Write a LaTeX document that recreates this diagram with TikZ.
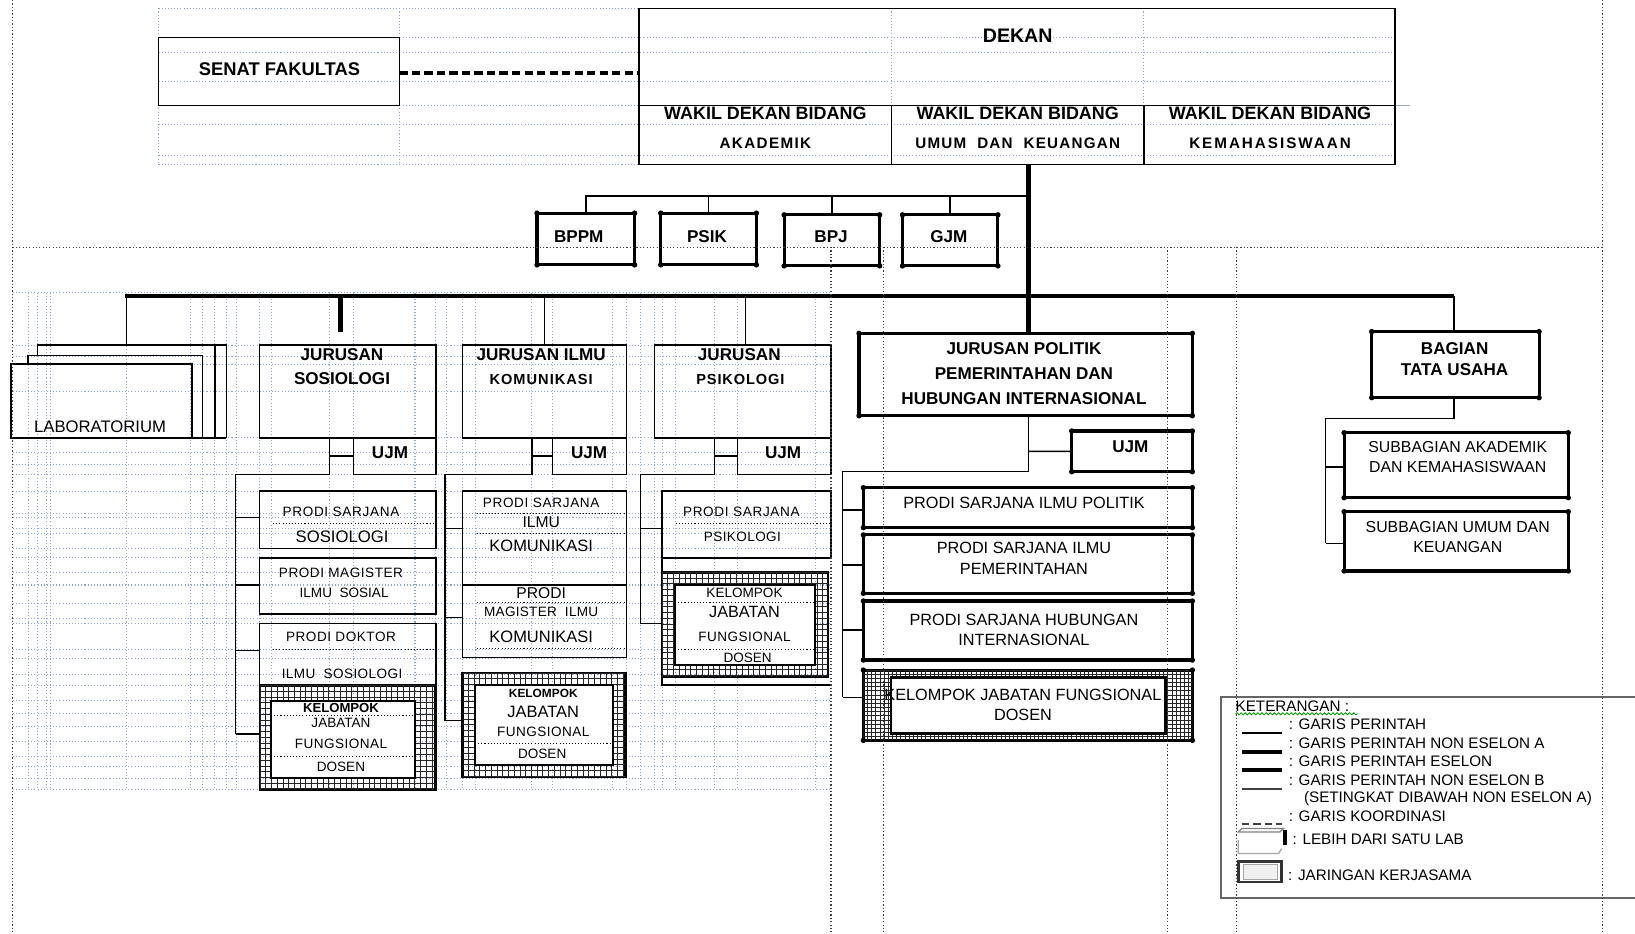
\documentclass[tikz,border=0pt]{standalone}
\usepackage{fontspec}
\setmainfont{Liberation Sans}
\usetikzlibrary{decorations.pathmorphing}
\definecolor{gridblue}{HTML}{8FA7CC}
\newcommand\fsz[1]{\fontsize{#1}{#1}\selectfont}
\newcommand\trk[2]{{\addfontfeature{LetterSpace=#1}#2}}
\newcommand\mkbox[6][box]{\node[#1, minimum width={(#5-#3)*0.5pt}, minimum height={(#6-#4)*0.5pt}] (#2) at ({(#3+#5)/2},{(#4+#6)/2}) {};}
\newcommand\cornerdots[1]{\foreach \c in {north west,north east,south west,south east}{\fill (#1.\c) circle (1.3pt);}}
\newcommand\hatchbox[5]{\begin{scope}\clip (#1,#2) rectangle (#3,#4);
 \foreach \k in {0,...,85}{\draw[hatch] ({#1+\k*#5},#2) -- ({#1+\k*#5},#4); \draw[hatch] (#1,{#2+\k*#5}) -- (#3,{#2+\k*#5});}\end{scope}}
\begin{document}
\begin{tikzpicture}[x=0.5pt,y=-0.5pt,
 box/.style={draw, line width=0.7pt, inner sep=0pt, outer sep=0pt},
 fbox/.style={draw, line width=1pt, inner sep=0pt, outer sep=0pt, fill=white},
 heavy/.style={draw, line width=1.5pt, inner sep=0pt, outer sep=0pt},
 ln/.style={line width=0.7pt},
 lnm/.style={line width=1pt},
 bus/.style={line width=2pt},
 trunk/.style={line width=2.6pt},
 coord/.style={line width=1.8pt, dash pattern=on 4pt off 2pt},
 hatch/.style={line width=0.45pt, black!85},
 gridl/.style={gridblue, line width=0.5pt, dash pattern=on 0.5pt off 1pt},
 pagel/.style={black!75, line width=0.6pt, densely dotted},
 sep/.style={line width=0.5pt, densely dotted},
 txt/.style={inner sep=0pt, outer sep=0pt},
 hb/.style={txt, font=\fsz{8.2}\bfseries},
 rt/.style={txt, font=\fsz{7.8}},
 st/.style={txt, font=\fsz{6.5}},
 lg/.style={txt, anchor=west, font=\fsz{7.3}}]
\useasboundingbox (0,0) rectangle (1568,895);
\fill[white] (0,0) rectangle (1568,895);

% ---------- table grid lines (word gridlines), drawn first ----------
\foreach \yy in {8,36,50,78,101,119,149,158}{\draw[gridl] (152,\yy) -- (1338,\yy);}
\foreach \xx in {152,383,613,855,1097,1338}{\draw[gridl] (\xx,8) -- (\xx,158);}
\draw[gridblue, line width=0.6pt] (1338,101) -- (1352,101);
\foreach \yy in {280.7,331,341.5,349.4,375.6,420,434,445,455,471,492,496.5,506.7,511.5,525.9,535,549,561,578.6,593,597.7,622.5,631.4,646.7,657.6,672,684,697,711.3,725.7,735.3,747,757}{\draw[gridl] (12,\yy) -- (797,\yy);}
\foreach \xx in {27,36,44.8,48,121.5,183,194,206,217,227,249,260.6,316,339,398,418,428,443.7,455.6,510,530,587.6,601,613.8,627.5,635,647.4,684.8,707.5,782}{\draw[gridl] (\xx,281) -- (\xx,757);}

% ---------- top: senat and dekan ----------
\mkbox{senat}{152}{35.8}{383}{101}
\mkbox{dekan}{613}{8}{1338}{101}
\mkbox{wk1}{613}{101}{855}{158}
\mkbox{wk2}{855}{101}{1097}{158}
\mkbox{wk3}{1097}{101}{1338}{158}
\coordinate (dsh) at (383,70);
\draw[coord] (dsh) -- (dsh -| dekan.west);

% ---------- staff units ----------
\mkbox[heavy]{bppm}{515}{204.4}{608.6}{254}
\mkbox[heavy]{psik}{633.7}{204.4}{725.4}{254}
\mkbox[heavy]{bpj}{752}{206}{843.6}{255}
\mkbox[heavy]{gjm}{865.5}{206}{957}{255}
\foreach \n in {bppm,psik,bpj,gjm}{\cornerdots{\n}}
\coordinate (stj) at (986.5,187.6);
\draw[lnm] (stj) -- (stj -| bppm.north) -- (bppm.north);
\foreach \n in {psik,bpj,gjm}{\draw[ln] (\n.north) -- (\n.north |- stj);}

% ---------- laboratorium (stacked) ----------
\mkbox{lab3}{10.5}{349}{184}{420}
\draw[ln] (10.5,420) -- (217,420);
\draw[ln] (27,349) -- (27,341) -- (194,341) -- (194,420);
\draw[ln] (36,341) -- (36,331) -- (217,331) -- (217,420);
\draw[ln] (206,331) -- (206,420);

% ---------- jurusan sosiologi ----------
\mkbox{jsos}{249}{331}{418}{420}
\mkbox{ujms}{339}{420}{418}{455}
\mkbox{ss1}{249}{471}{418}{526}
\mkbox{ss2}{249}{535}{418}{589}
\mkbox{ss3}{249}{597.7}{418}{657.6}
\draw[sep] (262,502) -- (417,502);
\draw[sep] (262,622.5) -- (417,622.5);
\mkbox[draw,line width=1.2pt,inner sep=0pt,outer sep=0pt]{sk}{249.4}{657.6}{417.8}{757.6}
\hatchbox{249.4}{657.6}{417.8}{757.6}{5.5}
\mkbox[fbox]{ski}{260}{672.3}{398}{745.8}
\draw[sep] (260,686) -- (398,686);
\draw[sep] (260,725.4) -- (398,725.4);

% ---------- jurusan ilmu komunikasi ----------
\mkbox{jkom}{443.7}{331}{601}{420}
\mkbox{ujmk}{530}{420}{601}{455}
\mkbox{ks1}{443.7}{471}{601}{561}
\mkbox{ks2}{443.7}{561}{601}{630.7}
\draw[sep] (457,492) -- (599.5,492);
\draw[sep] (457,512) -- (599.5,512);
\draw[sep] (457,578) -- (599.5,578);
\draw[sep] (457,621.6) -- (599.5,621.6);
\mkbox[draw,line width=1.2pt,inner sep=0pt,outer sep=0pt]{kk}{443.7}{645.5}{600}{745}
\hatchbox{443.7}{645.5}{600}{745}{5.5}
\mkbox[fbox]{kki}{455.6}{657}{587.6}{733.7}
\draw[sep] (455.6,712.6) -- (587.6,712.6);

% ---------- jurusan psikologi ----------
\mkbox{jpsi}{627.5}{331}{797}{420}
\mkbox{ujmp}{707.5}{420}{797}{455}
\mkbox{ps1}{635}{471}{797}{535}
\draw[sep] (648,502) -- (797,502);
\draw[ln] (635,535) -- (635,657) -- (797,657);
\mkbox[draw,line width=1.2pt,inner sep=0pt,outer sep=0pt]{pk}{635}{549}{794}{649}
\hatchbox{635}{549}{794}{649}{5.5}
\mkbox[fbox]{pki}{647.4}{561}{782}{637.8}
\draw[sep] (647.4,578) -- (782,578);
\draw[sep] (647.4,622.5) -- (782,622.5);

% ---------- jurusan politik ----------
\mkbox[heavy]{jpol}{823.8}{319.7}{1143.5}{398.7}
\mkbox[heavy]{ujmpol}{1027.8}{413.3}{1143.5}{452.4}
\mkbox[heavy]{po1}{828}{467.7}{1143.5}{506}
\mkbox[heavy]{po2}{828}{513}{1143.5}{569}
\mkbox[heavy]{po3}{828}{576.4}{1143.5}{633}
\mkbox[heavy]{pok}{828}{642.6}{1143.5}{710}
\hatchbox{828}{642.6}{1143.5}{710}{4}
\mkbox[fbox,line width=1.4pt]{poki}{854.5}{649.6}{1117.3}{703.3}
\foreach \n in {jpol,ujmpol,po1,po2,po3,pok}{\cornerdots{\n}}

% ---------- bagian tata usaha ----------
\mkbox[heavy]{tu}{1315.5}{318}{1476}{381.4}
\mkbox[heavy]{tu1}{1289}{415}{1504}{477.3}
\mkbox[heavy]{tu2}{1289}{490.7}{1504}{547.6}
\foreach \n in {tu,tu1,tu2}{\cornerdots{\n}}

% ---------- main lines ----------
\coordinate (tk) at (986.5,158);
\draw[trunk] (tk) -- (tk |- jpol.north);
\coordinate (busL) at (120,284);
\coordinate (busR) at (1394.5,284);
\draw[bus] (busL) -- (busR);
\coordinate (labdrop) at (121.5,284);
\draw[ln] (labdrop) -- (121.5,331);
\coordinate (stub) at (326.7,284);
\draw[trunk] (stub) -- ++(0,34);
\draw[ln] (jkom.north) -- (jkom.north |- busL);
\coordinate (psidrop) at (715,284);
\draw[ln] (psidrop) -- (psidrop |- jpsi.north);
\draw[lnm] (busR) -- (busR |- tu.north);

% sosiologi connectors
\coordinate (sJ) at (316,455);
\coordinate (sV) at (226,455);
\draw[ln] (jsos.south -| sJ) -- (sJ) -- (sV) -- (226,704);
\draw[ln] (sJ |- ujms.west) -- (ujms.west);
\foreach \yy/\n in {496.5/ss1,561/ss2,624/ss3,704/sk}{\draw[ln] (226,\yy) -- (226,\yy -| \n.west);}

% komunikasi connectors
\coordinate (kJ) at (510,455);
\draw[ln] (jkom.south -| kJ) -- (kJ) -- (426.8,455) -- (426.8,691);
\draw[ln] (kJ |- ujmk.west) -- (ujmk.west);
\foreach \yy/\n in {506.7/ks1,592.4/ks2,691/kk}{\draw[ln] (426.8,\yy) -- (426.8,\yy -| \n.west);}

% psikologi connectors
\coordinate (pJ) at (685,455);
\draw[ln] (jpsi.south -| pJ) -- (pJ) -- (614,455) -- (614,598);
\draw[lnm] (pJ |- ujmp.west) -- (ujmp.west);
\foreach \yy/\n in {506.7/ps1,598/pk}{\draw[ln] (614,\yy) -- (614,\yy -| \n.west);}

% politik connectors
\coordinate (poJ) at (986.5,452.4);
\draw[ln] (tk |- jpol.south) -- (poJ) -- (808,452.4) -- (808,668.8);
\draw[ln] (986.5,432.8) -- (ujmpol.west);
\foreach \yy/\n in {489/po1,541.9/po2,604/po3,668.8/pok}{\draw[ln] (808,\yy) -- (808,\yy -| \n.west);}

% tata usaha connectors
\coordinate (tJ) at (1394.5,401.2);
\draw[ln] (tu.south -| tJ) -- (tJ) -- (1271.4,401.2) -- (1271.4,521);
\foreach \yy/\n in {448/tu1,521/tu2}{\draw[ln] (1271.4,\yy) -- (1271.4,\yy -| \n.west);}

% ---------- legend frame ----------
\coordinate (lgA) at (1170.7,668.8);
\draw[black!60, line width=0.9pt] (1568,668.8) -- (lgA) -- (1170.7,861.5) -- (1568,861.5);

% ---------- page dotted lines ----------
\draw[pagel] (12,0) -- (12,895);
\draw[pagel] (1537,0) -- (1537,895);
\draw[pagel] (12,237) -- (1537,237);
\foreach \xx in {797,847,1120,1186}{\draw[pagel] (\xx,237) -- (\xx,895);}

% ---------- texts ----------
\node[txt, font=\fsz{8.8}\bfseries] (tsenat) at (268,66.5) {SENAT FAKULTAS};
\node[txt, font=\fsz{9.4}\bfseries] (tdekan) at (976,34) {DEKAN};
\node[txt, font=\fsz{8.6}\bfseries] (twk1) at (734,108.6) {WAKIL DEKAN BIDANG};
\node[txt, font=\fsz{8.6}\bfseries] (twk2) at (976,108.6) {WAKIL DEKAN BIDANG};
\node[txt, font=\fsz{8.6}\bfseries] (twk3) at (1218,108.6) {WAKIL DEKAN BIDANG};
\node[txt, font=\fsz{7.3}\bfseries] (twk1b) at (734,137.5) {\trk{9}{AKADEMIK}};
\node[txt, font=\fsz{7.3}\bfseries] (twk2b) at (976,137.5) {\trk{8}{UMUM~ DAN~ KEUANGAN}};
\node[txt, font=\fsz{7.3}\bfseries] (twk3b) at (1218,137.5) {\trk{13}{KEMAHASISWAAN}};

\node[hb] (tbppm) at (555,227) {BPPM};
\node[hb] (tpsik) at (678,227) {PSIK};
\node[hb] (tbpj) at (797,227) {BPJ};
\node[hb] (tgjm) at (910,227) {GJM};

\node[txt, font=\fsz{8}] (tlab) at (96,409) {LABORATORIUM};

\node[hb] (tjs1) at (328,340) {JURUSAN};
\node[hb] (tjs2) at (328,363.5) {SOSIOLOGI};
\node[hb] (tujs) at (374,434) {UJM};
\node[st] (tss1a) at (327,490.7) {\trk{5}{PRODI SARJANA}};
\node[txt, font=\fsz{8}] (tss1b) at (328,514.7) {SOSIOLOGI};
\node[st] (tss2a) at (327,549.7) {\trk{4}{PRODI MAGISTER}};
\node[st] (tss2b) at (330,569) {ILMU~ SOSIAL};
\node[st] (tss3a) at (327,611) {\trk{4}{PRODI DOKTOR}};
\node[st] (tss3b) at (328,646.5) {\trk{3}{ILMU~ SOSIOLOGI}};
\node[txt, font=\fsz{6.3}\bfseries] (tsk1) at (327,678.7) {KELOMPOK};
\node[st] (tsk2) at (327,693.7) {JABATAN};
\node[st] (tsk3) at (327,713.5) {\trk{3.5}{FUNGSIONAL}};
\node[st] (tsk4) at (327,735.3) {DOSEN};

\node[hb] (tjk1) at (519,340) {JURUSAN ILMU};
\node[txt, font=\fsz{7}\bfseries] (tjk2) at (519,363.5) {\trk{7}{KOMUNIKASI}};
\node[hb] (tujk) at (565,434) {UJM};
\node[st] (tks1a) at (519,482) {\trk{5}{PRODI SARJANA}};
\node[txt, font=\fsz{7.5}] (tks1b) at (519,500.6) {ILMU};
\node[txt, font=\fsz{7.9}] (tks1c) at (519,523) {KOMUNIKASI};
\node[txt, font=\fsz{7.5}] (tks2a) at (519,569) {PRODI};
\node[st] (tks2b) at (519,586.6) {\trk{2}{MAGISTER~ ILMU}};
\node[txt, font=\fsz{7.9}] (tks2c) at (519,610.6) {KOMUNIKASI};
\node[txt, font=\fsz{5.7}\bfseries] (tkk1) at (521,664.8) {KELOMPOK};
\node[txt, font=\fsz{7.9}] (tkk2) at (521,682.5) {JABATAN};
\node[st] (tkk3) at (521,701.7) {\trk{3.5}{FUNGSIONAL}};
\node[st] (tkk4) at (520,723) {DOSEN};

\node[hb] (tjp1) at (709,340) {JURUSAN};
\node[txt, font=\fsz{7}\bfseries] (tjp2) at (710,363.5) {\trk{6}{PSIKOLOGI}};
\node[hb] (tujp) at (751,434) {UJM};
\node[st] (tps1a) at (711,490.7) {\trk{5}{PRODI SARJANA}};
\node[st] (tps1b) at (712,514.7) {\trk{3}{PSIKOLOGI}};
\node[st] (tpk1) at (714,569) {KELOMPOK};
\node[txt, font=\fsz{7.8}] (tpk2) at (714,586.6) {JABATAN};
\node[st] (tpk3) at (714,610.6) {\trk{3.5}{FUNGSIONAL}};
\node[st] (tpk4) at (717,630.7) {DOSEN};

\node[hb] (tjpol1) at (982,334.7) {JURUSAN POLITIK};
\node[hb] (tjpol2) at (982,358) {PEMERINTAHAN DAN};
\node[hb] (tjpol3) at (982,382.7) {HUBUNGAN INTERNASIONAL};
\node[hb] (tujpol) at (1084,428.4) {UJM};
\node[rt] (tpo1) at (982,482) {PRODI SARJANA ILMU POLITIK};
\node[rt] (tpo2a) at (982,525.9) {PRODI SARJANA ILMU};
\node[rt] (tpo2b) at (982,546) {PEMERINTAHAN};
\node[rt] (tpo3a) at (982,594.6) {PRODI SARJANA HUBUNGAN};
\node[rt] (tpo3b) at (982,613.8) {INTERNASIONAL};
\node[rt] (tpok1) at (981,666.5) {KELOMPOK JABATAN FUNGSIONAL};
\node[rt] (tpok2) at (981,685.7) {DOSEN};

\node[hb] (ttu1) at (1395,334) {BAGIAN};
\node[hb] (ttu2) at (1395,354.8) {TATA USAHA};
\node[txt, font=\fsz{7.6}] (ttu1a) at (1398,429) {SUBBAGIAN AKADEMIK};
\node[txt, font=\fsz{7.6}] (ttu1b) at (1398,448) {DAN KEMAHASISWAAN};
\node[txt, font=\fsz{7.6}] (ttu2a) at (1398,505) {SUBBAGIAN UMUM DAN};
\node[txt, font=\fsz{7.6}] (ttu2b) at (1398,524.3) {KEUANGAN};

% ---------- legend ----------
\node[lg] (tket) at (1185,677) {KETERANGAN :};
\draw[green!60!black, line width=0.4pt, decorate, decoration={snake, amplitude=0.5pt, segment length=2pt}] (1185,684.5) -- (1302,684.5);
\draw[line width=0.6pt] (1191,703) -- (1229,703);
\draw[line width=2.2pt] (1191,721) -- (1229,721);
\draw[line width=1.6pt] (1191,738.5) -- (1229,738.5);
\draw[line width=1pt, black!75] (1191,757) -- (1229,757);
\draw[line width=1.2pt, black!75, dash pattern=on 3.5pt off 2pt] (1191,790) -- (1229,790);
\draw[gray, line width=0.6pt] (1187.6,797.8) -- (1190.9,794.6) -- (1230.8,794.6) -- (1227.5,797.8) -- cycle;
\draw[gray!70, line width=0.6pt] (1187.6,805.8) -- (1187.6,818.6) -- (1226,818.6) -- (1229.2,813.8);
\fill (1230.1,796.2) rectangle (1234.6,810.6);
\draw[line width=1.2pt, black!80] (1187.6,826) rectangle (1229.2,846);
\draw[gray!70, fill=gray!12, line width=0.5pt] (1192.4,828.6) rectangle (1225,843.6);
\node[lg] (tl1) at (1236,695) {: GARIS PERINTAH};
\node[lg] (tl2) at (1236,713) {: GARIS PERINTAH NON ESELON A};
\node[lg] (tl3) at (1236,730.5) {: GARIS PERINTAH ESELON};
\node[lg] (tl4) at (1236,748) {: GARIS PERINTAH NON ESELON B};
\node[lg] (tl5) at (1250.6,765.6) {(SETINGKAT DIBAWAH NON ESELON A)};
\node[lg] (tl6) at (1236,783) {: GARIS KOORDINASI};
\node[lg] (tl7) at (1239.7,805) {: LEBIH DARI SATU LAB};
\node[lg] (tl8) at (1235.4,839) {: JARINGAN KERJASAMA};
\end{tikzpicture}
\end{document}
